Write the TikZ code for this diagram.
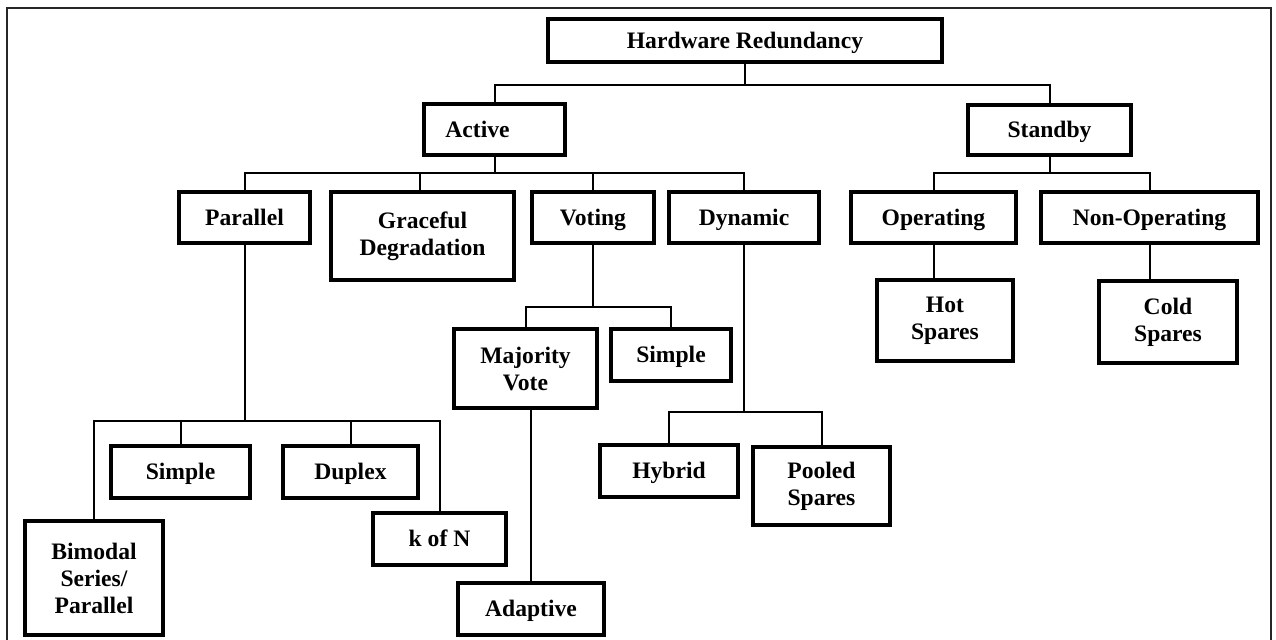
\documentclass[tikz,border=0pt]{standalone}
\usepackage{fontspec}
\setmainfont{Liberation Serif}
\usepackage{tikz}
\usetikzlibrary{positioning,calc}

\begin{document}
\begin{tikzpicture}[x=0.5pt,y=-0.5pt,
    box/.style={draw,line width=2pt,align=center,inner sep=0pt,
                font=\fontsize{11.8}{13.5}\selectfont\bfseries},
    oneline/.style={text height=7.8pt,text depth=0pt},
    conn/.style={line width=1pt},
    frame/.style={line width=0.8pt,draw=black!85}]
  \useasboundingbox (0,0) rectangle (1276,639);
  \draw[frame] (7,8) rectangle (1271,680);

  %% Top level
  \node[box,oneline,minimum width=197pt,minimum height=21.5pt] (hr) at (745,40.5) {Hardware Redundancy};
  \node[box,oneline,minimum width=70.5pt,minimum height=25.5pt] (active) at (494.5,129.5) {Active\hspace*{17pt}};
  \node[box,oneline,minimum width=81.5pt,minimum height=25pt] (standby) at (1049.5,130) {Standby};
  \coordinate (hrbus) at (745,85);
  \draw[conn] (hr.south) -- (hrbus);
  \draw[conn] (active.north) |- (hrbus) -| (standby.north);

  %% Active branch
  \node[box,oneline,minimum width=65.5pt,minimum height=25.5pt] (parallel) at (244.5,217.5) {Parallel};
  \node[box,minimum width=91.5pt,minimum height=44pt] (graceful) at (422.5,236) {Graceful\\Degradation};
  \node[box,oneline,minimum width=61pt,minimum height=25.5pt] (voting) at (593,217.5) {Voting};
  \node[box,oneline,minimum width=75pt,minimum height=25.5pt] (dynamic) at (744,217.5) {Dynamic};
  \coordinate (actbus) at (494.5,173);
  \draw[conn] (active.south) -- (actbus);
  \draw[conn] (parallel.north) |- (actbus) -| (dynamic.north);
  \draw[conn] (420,173) -- (420,190);
  \draw[conn] (voting.north) -- (voting.north |- actbus);

  %% Standby branch
  \node[box,oneline,minimum width=82.5pt,minimum height=25.5pt] (operating) at (933.5,217.5) {Operating};
  \node[box,oneline,minimum width=108.5pt,minimum height=25.5pt] (nonop) at (1149.5,217.5) {Non-Operating};
  \node[box,minimum width=68pt,minimum height=40.5pt] (hot) at (945,320.5) {Hot\\Spares};
  \node[box,minimum width=69pt,minimum height=41pt] (cold) at (1168,322) {Cold\\Spares};
  \coordinate (sbbus) at (1049.5,173);
  \draw[conn] (standby.south) -- (sbbus);
  \draw[conn] (operating.north) |- (sbbus) -| (nonop.north);
  \draw[conn] (operating.south) -- (operating.south |- hot.north);
  \draw[conn] (nonop.south) -- (nonop.south |- cold.north);

  %% Voting
  \node[box,minimum width=71.5pt,minimum height=39.5pt] (majority) at (525.5,368.5) {Majority\\Vote};
  \node[box,oneline,minimum width=60pt,minimum height=26pt] (vsimple) at (671,355) {Simple};
  \node[box,oneline,minimum width=73pt,minimum height=26pt] (adaptive) at (531,609) {Adaptive};
  \coordinate (votbus) at (593,307);
  \draw[conn] (voting.south) -- (votbus);
  \draw[conn] (majority.north) |- (votbus) -| (vsimple.north);
  \draw[conn] (adaptive.north |- majority.south) -- (adaptive.north);

  %% Dynamic
  \node[box,oneline,minimum width=69pt,minimum height=26pt] (hybrid) at (669,471) {Hybrid};
  \node[box,minimum width=68.5pt,minimum height=39pt] (pooled) at (821.5,486) {Pooled\\Spares};
  \coordinate (dynbus) at (744,412);
  \draw[conn] (dynamic.south) -- (dynbus);
  \draw[conn] (hybrid.north) |- (dynbus) -| (pooled.north);

  %% Parallel
  \node[box,minimum width=69pt,minimum height=57pt] (bimodal) at (94,578) {Bimodal\\Series/\\Parallel};
  \node[box,oneline,minimum width=69.5pt,minimum height=26pt] (psimple) at (180.5,472) {Simple};
  \node[box,oneline,minimum width=67.5pt,minimum height=26pt] (duplex) at (350.5,472) {Duplex};
  \node[box,oneline,minimum width=66.5pt,minimum height=26pt] (kofn) at (439.5,539) {k of N};
  \coordinate (parbus) at (244.5,421);
  \draw[conn] (parallel.south) -- (parbus);
  \draw[conn] (bimodal.north) |- (parbus) -| (kofn.north);
  \draw[conn] (psimple.north) -- (psimple.north |- parbus);
  \draw[conn] (duplex.north) -- (duplex.north |- parbus);
\end{tikzpicture}
\end{document}
